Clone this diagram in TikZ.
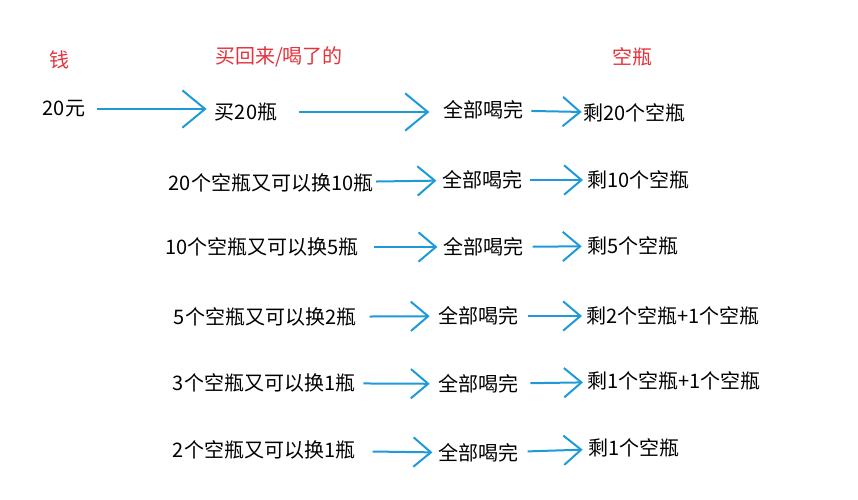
\documentclass[tikz,border=0pt]{standalone}
\usepackage{fontspec}
\setmainfont{Noto Sans CJK SC}
\usetikzlibrary{arrows.meta}

\definecolor{penblue}{HTML}{1E9AD8}
\definecolor{headred}{HTML}{E5323B}

\begin{document}
\begin{tikzpicture}[
    x=0.75pt, y=-0.75pt,
    font=\fontsize{15}{18}\selectfont,
    every node/.style={inner sep=0pt},
    head/.style={text=headred},
    flow/.style={draw=penblue, line width=1.5pt, -{Straight Barb[length=13pt,width=22pt]},
        shorten <=6pt, shorten >=4pt},
    bigflow/.style={flow, -{Straight Barb[length=17pt,width=28pt]}}
]
\useasboundingbox (0,0) rectangle (858,500);

% column heads
\node[head] (money) at (60,60) {钱};
\node[head] (bought) at (279,57) {买回来/喝了的};
\node[head] (empty) at (632,57) {空瓶};

% first purchase
\node (cash) at (64,109) {20元};
\node (buy) at (246,112) {买20瓶};
\node (drinka) at (483,110) {全部喝完};
\node[anchor=west] (lefta) at (583,113) {剩20个空瓶};

% exchanges
\node (tradeb) at (271,183) {20个空瓶又可以换10瓶};
\node (drinkb) at (482,180) {全部喝完};
\node[anchor=west] (leftb) at (587,180) {剩10个空瓶};

\node (tradec) at (262,247) {10个空瓶又可以换5瓶};
\node (drinkc) at (483,247) {全部喝完};
\node[anchor=west] (leftc) at (587,246) {剩5个空瓶};

\node (traded) at (265,317) {5个空瓶又可以换2瓶};
\node (drinkd) at (478,316) {全部喝完};
\node[anchor=west] (leftd) at (586,316) {剩2个空瓶+1个空瓶};

\node (tradee) at (264,383) {3个空瓶又可以换1瓶};
\node (drinke) at (478,384) {全部喝完};
\node[anchor=west] (lefte) at (587,381) {剩1个空瓶+1个空瓶};

\node (tradef) at (264,450) {2个空瓶又可以换1瓶};
\node (drinkf) at (478,453) {全部喝完};
\node[anchor=west] (leftf) at (588,448) {剩1个空瓶};

\draw[bigflow, shorten <=9pt, shorten >=6pt] (cash.east) -- (cash.east -| buy.west);
\draw[bigflow, shorten <=16pt, shorten >=10pt] (buy.east) -- (buy.east -| drinka.west);
\draw[flow, shorten >=1pt] (drinka) -- (lefta);

\draw[flow, shorten <=2pt] (tradeb) -- (drinkb);
\draw[flow, shorten >=3pt] (drinkb) -- (leftb);

\draw[flow, shorten <=11pt] (tradec) -- (drinkc);
\draw[flow, shorten <=7pt] (drinkc) -- (leftc);

\draw[flow, shorten <=10pt, shorten >=6pt] (traded) -- (drinkd);
\draw[flow, shorten <=7pt, shorten >=3pt] (drinkd) -- (leftd);

\draw[flow, shorten >=6pt] (tradee) -- (drinke);
\draw[flow, shorten <=9pt, shorten >=3pt] (drinke) -- (lefte);

\draw[flow, shorten <=13pt] (tradef) -- (drinkf);
\draw[flow, shorten <=7pt] (drinkf) -- (leftf);
\end{tikzpicture}
\end{document}
